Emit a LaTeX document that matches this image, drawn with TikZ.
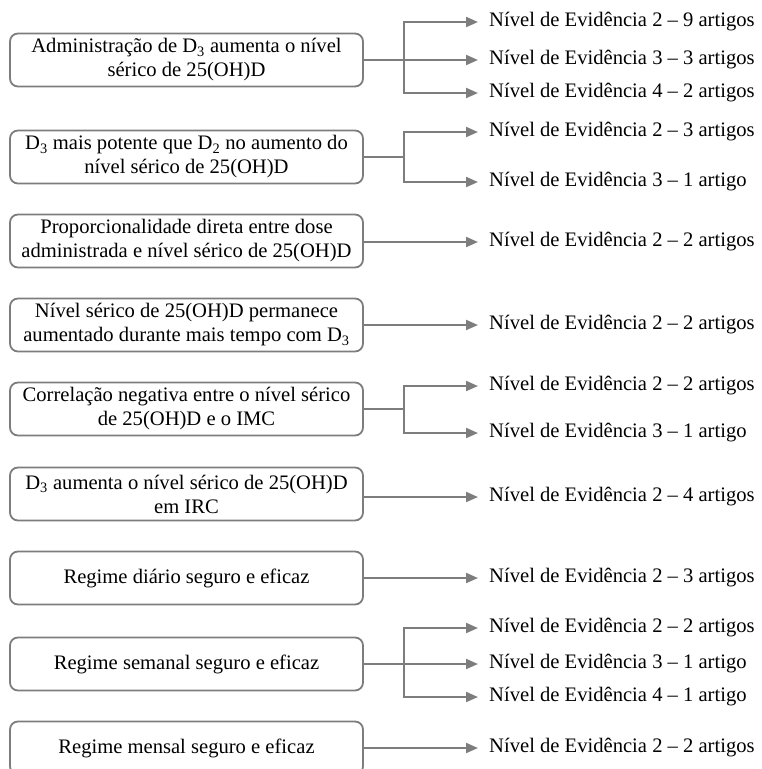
\documentclass[tikz,border=0pt]{standalone}
\usepackage{fontspec}
\setmainfont{Liberation Serif}
\usepackage{xcolor}
\usepackage{tikz}
\usetikzlibrary{positioning, arrows.meta, calc}

\definecolor{linegray}{RGB}{125,125,125}

\begin{document}
\begin{tikzpicture}[
  x=1pt, y=-1pt,
  font=\fontsize{20.6}{24}\selectfont,
  claim/.style={draw=linegray, line width=1.8pt, rounded corners=8pt,
                minimum width=353pt, minimum height=53pt, align=center,
                inner sep=2pt},
  lvl/.style={anchor=west, inner xsep=11pt, inner ysep=2pt},
  link/.style={draw=linegray, line width=2pt},
  arrow/.style={link, -{Triangle[length=12pt, width=10pt]}}
]
\useasboundingbox (0,0) rectangle (761,769);

% ── Left column: findings ────────────────────────────────
\node[claim] (c1) at (186.5,60)  {Administração de D\textsubscript{3} aumenta o nível\\sérico de 25(OH)D};
\node[claim] (c2) at (186.5,157) {D\textsubscript{3} mais potente que D\textsubscript{2} no aumento do\\nível sérico de 25(OH)D};
\node[claim] (c3) at (186.5,241) {Proporcionalidade direta entre dose\\administrada e nível sérico de 25(OH)D};
\node[claim] (c4) at (186.5,325) {Nível sérico de 25(OH)D permanece\\aumentado durante mais tempo com D\textsubscript{3}};
\node[claim] (c5) at (186.5,409) {Correlação negativa entre o nível sérico\\de 25(OH)D e o IMC};
\node[claim] (c6) at (186.5,494) {D\textsubscript{3} aumenta o nível sérico de 25(OH)D\\em IRC};
\node[claim] (c7) at (186.5,578) {Regime diário seguro e eficaz};
\node[claim] (c8) at (186.5,664) {Regime semanal seguro e eficaz};
\node[claim] (c9) at (186.5,748) {Regime mensal seguro e eficaz};

% ── Right column: evidence levels ────────────────────────
\node[lvl] (l1a) at (478,22)  {Nível de Evidência 2 – 9 artigos};
\node[lvl] (l1b) at (478,60)  {Nível de Evidência 3 – 3 artigos};
\node[lvl] (l1c) at (478,93)  {Nível de Evidência 4 – 2 artigos};
\node[lvl] (l2a) at (478,132) {Nível de Evidência 2 – 3 artigos};
\node[lvl] (l2b) at (478,182) {Nível de Evidência 3 – 1 artigo};
\node[lvl] (l3)  at (478,242) {Nível de Evidência 2 – 2 artigos};
\node[lvl] (l4)  at (478,325) {Nível de Evidência 2 – 2 artigos};
\node[lvl] (l5a) at (478,386) {Nível de Evidência 2 – 2 artigos};
\node[lvl] (l5b) at (478,433) {Nível de Evidência 3 – 1 artigo};
\node[lvl] (l6)  at (478,497) {Nível de Evidência 2 – 4 artigos};
\node[lvl] (l7)  at (478,578) {Nível de Evidência 2 – 3 artigos};
\node[lvl] (l8a) at (478,628) {Nível de Evidência 2 – 2 artigos};
\node[lvl] (l8b) at (478,664) {Nível de Evidência 3 – 1 artigo};
\node[lvl] (l8c) at (478,697) {Nível de Evidência 4 – 1 artigo};
\node[lvl] (l9)  at (478,748) {Nível de Evidência 2 – 2 artigos};

% ── Branch points ────────────────────────────────────────
\coordinate (j1) at (404,60);
\coordinate (j2) at (404,157);
\coordinate (j5) at (404,409);
\coordinate (j8) at (404,664);

% ── Arrows ───────────────────────────────────────────────
\draw[link]  (c1.east) -- (j1);
\draw[arrow] (j1) |- (l1a.west);
\draw[arrow] (j1) -- (l1b.west);
\draw[arrow] (j1) |- (l1c.west);

\draw[link]  (c2.east) -- (j2);
\draw[arrow] (j2) |- (l2a.west);
\draw[arrow] (j2) |- (l2b.west);

\draw[arrow] (c3.east |- l3.west) -- (l3.west);
\draw[arrow] (c4.east) -- (l4.west);

\draw[link]  (c5.east) -- (j5);
\draw[arrow] (j5) |- (l5a.west);
\draw[arrow] (j5) |- (l5b.west);

\draw[arrow] (c6.east |- l6.west) -- (l6.west);
\draw[arrow] (c7.east) -- (l7.west);

\draw[link]  (c8.east) -- (j8);
\draw[arrow] (j8) |- (l8a.west);
\draw[arrow] (j8) -- (l8b.west);
\draw[arrow] (j8) |- (l8c.west);

\draw[arrow] (c9.east) -- (l9.west);

\end{tikzpicture}
\end{document}
